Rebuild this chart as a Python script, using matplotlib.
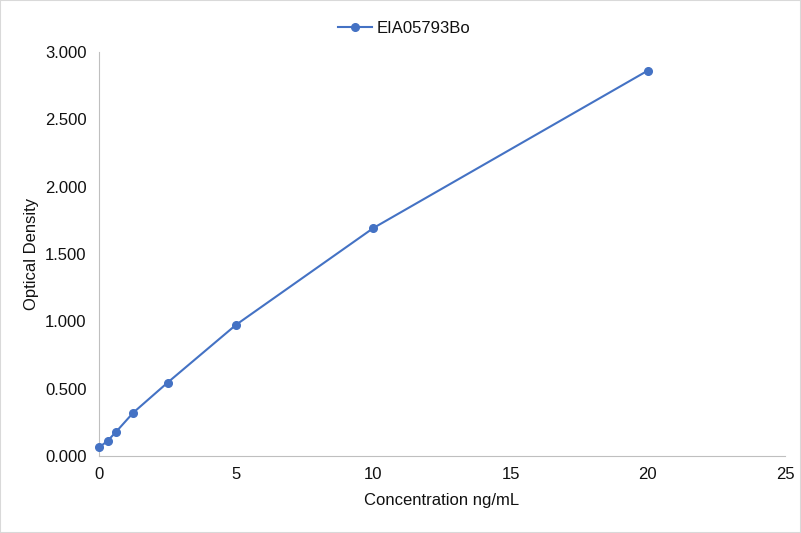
import matplotlib.pyplot as plt

conc = [0, 0.3125, 0.625, 1.25, 2.5, 5, 10, 20]
od = [0.063, 0.112, 0.180, 0.322, 0.545, 0.975, 1.693, 2.862]
series_name = "EIA05793Bo"

plt.rcParams['font.family'] = ['Liberation Sans', 'DejaVu Sans']

fig = plt.figure(figsize=(8.01, 5.33), dpi=100)
ax = fig.add_axes([0.1236, 0.1445, 0.8564, 0.7579])

ax.plot(conc, od, color="#4472C4", linewidth=1.5, marker="o", markersize=5.5,
        label=series_name, clip_on=False, zorder=3)

ax.set_xlim(0, 25)
ax.set_ylim(0, 3)
ax.set_xticks([0, 5, 10, 15, 20, 25])
ax.set_yticks([0, 0.5, 1.0, 1.5, 2.0, 2.5, 3.0])
ax.set_yticklabels([f"{v:.3f}" for v in ax.get_yticks()])

for s in ["top", "right"]:
    ax.spines[s].set_visible(False)
for s in ["left", "bottom"]:
    ax.spines[s].set_color("#BFBFBF")
ax.tick_params(length=0, labelsize=12, colors="#111111", pad=9)
ax.tick_params(axis="x", pad=8)

ax.set_xlabel("Concentration ng/mL", fontsize=12, color="#111111", labelpad=8)
ax.set_ylabel("Optical Density", fontsize=12, color="#111111", labelpad=4)

ax.legend(loc="upper center", bbox_to_anchor=(0.445, 1.115), frameon=False, fontsize=12,
          handlelength=2.0, handletextpad=0.3, labelcolor="#111111")

fig.patches.append(plt.Rectangle((0, 0), 1, 1, transform=fig.transFigure, fill=False,
                                 edgecolor="#D9D9D9", linewidth=1.5))

fig.savefig("out.png", dpi=100)
